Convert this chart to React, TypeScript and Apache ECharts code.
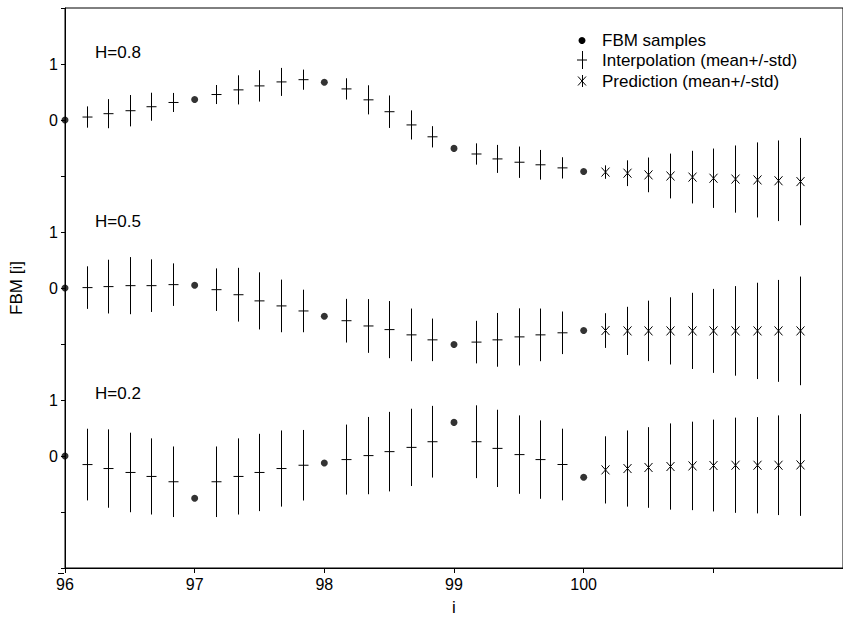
import React, { useEffect, useRef } from "react";
import * as echarts from "echarts";

// x positions (i)
const sampleX = [96, 97, 98, 99, 100];
const interpX = [
  96.167, 96.333, 96.5, 96.667, 96.833,
  97.167, 97.333, 97.5, 97.667, 97.833,
  98.167, 98.333, 98.5, 98.667, 98.833,
  99.167, 99.333, 99.5, 99.667, 99.833,
];
const predX = [100.167, 100.333, 100.5, 100.667, 100.833, 101, 101.167, 101.333, 101.5, 101.667];

// panel names
const panelNames = ["H=0.8", "H=0.5", "H=0.2"];

// H=0.8
const h08Samples = [0, 0.366, 0.673, -0.507, -0.92];
const h08InterpMean = [0.053, 0.113, 0.166, 0.237, 0.313, 0.455, 0.538, 0.609, 0.68, 0.72, 0.555, 0.36, 0.148, -0.088, -0.3, -0.607, -0.695, -0.754, -0.8, -0.855];
const h08InterpStd = [0.19, 0.26, 0.28, 0.25, 0.17, 0.17, 0.26, 0.28, 0.25, 0.18, 0.19, 0.26, 0.29, 0.26, 0.19, 0.19, 0.25, 0.28, 0.265, 0.19];
const h08PredMean = [-0.93, -0.95, -0.98, -1.0, -1.02, -1.04, -1.055, -1.07, -1.085, -1.1];
const h08PredStd = [0.12, 0.23, 0.31, 0.4, 0.47, 0.53, 0.6, 0.67, 0.72, 0.78];

// H=0.5
const h05Samples = [0, 0.048, -0.506, -1.01, -0.76];
const h05InterpMean = [0.007, 0.025, 0.042, 0.042, 0.06, -0.03, -0.12, -0.23, -0.32, -0.41, -0.584, -0.678, -0.743, -0.837, -0.926, -0.966, -0.926, -0.873, -0.837, -0.8];
const h05InterpStd = [0.38, 0.48, 0.51, 0.47, 0.38, 0.38, 0.48, 0.51, 0.47, 0.38, 0.39, 0.48, 0.51, 0.47, 0.38, 0.38, 0.48, 0.51, 0.47, 0.38];
const h05PredMean = [-0.76, -0.766, -0.766, -0.766, -0.766, -0.766, -0.766, -0.766, -0.766, -0.766];
const h05PredStd = [0.31, 0.43, 0.54, 0.6, 0.68, 0.75, 0.8, 0.86, 0.91, 0.97];

// H=0.2
const h02Samples = [0, -0.755, -0.124, 0.6, -0.38];
const h02InterpMean = [-0.153, -0.224, -0.294, -0.365, -0.46, -0.46, -0.365, -0.294, -0.224, -0.165, -0.064, 0.007, 0.078, 0.154, 0.255, 0.255, 0.136, 0.025, -0.064, -0.152];
const h02InterpStd = [0.64, 0.7, 0.71, 0.68, 0.63, 0.63, 0.68, 0.69, 0.68, 0.63, 0.625, 0.69, 0.71, 0.69, 0.64, 0.65, 0.69, 0.7, 0.7, 0.64];
const h02PredMean = [-0.248, -0.224, -0.205, -0.188, -0.177, -0.17, -0.165, -0.165, -0.165, -0.159];
const h02PredStd = [0.6, 0.68, 0.72, 0.77, 0.79, 0.82, 0.85, 0.86, 0.89, 0.91];

// tick labels
const xTickLabels = ["96", "97", "98", "99", "100"];
const yTickLabels: Record<string, string> = { "0": "0", "1": "1", "3": "0", "4": "1", "6": "0", "7": "1" };

const legendNames = ["FBM samples", "Interpolation (mean+/-std)", "Prediction (mean+/-std)"];

const FONT = "'Liberation Sans', Arial, Helvetica, sans-serif";

export default function App() {
  const ref = useRef<HTMLDivElement>(null);

  useEffect(() => {
    if (!ref.current) return;
    const chart = echarts.init(ref.current, null, { renderer: "svg" });

    const panels = [
      { name: panelNames[0], offset: 6, s: h08Samples, im: h08InterpMean, is: h08InterpStd, pm: h08PredMean, ps: h08PredStd },
      { name: panelNames[1], offset: 3, s: h05Samples, im: h05InterpMean, is: h05InterpStd, pm: h05PredMean, ps: h05PredStd },
      { name: panelNames[2], offset: 0, s: h02Samples, im: h02InterpMean, is: h02InterpStd, pm: h02PredMean, ps: h02PredStd },
    ];

    const sampleData: number[][] = [];
    const interpData: number[][] = [];
    const predData: number[][] = [];
    panels.forEach((p) => {
      sampleX.forEach((x, i) => sampleData.push([x, p.s[i] + p.offset]));
      interpX.forEach((x, i) => interpData.push([x, p.im[i] + p.offset, p.is[i]]));
      predX.forEach((x, i) => predData.push([x, p.pm[i] + p.offset, p.ps[i]]));
    });

    const stroke = { stroke: "#000", lineWidth: 1 };
    const makeRender = (kind: "interp" | "pred") => (params: any, api: any) => {
      const x = api.value(0);
      const m = api.value(1);
      const s = api.value(2);
      const top = api.coord([x, m + s]);
      const bot = api.coord([x, m - s]);
      const c = api.coord([x, m]);
      const cx = Math.round(c[0]) + 0.5;
      const children: any[] = [
        { type: "line", shape: { x1: cx, y1: top[1], x2: cx, y2: bot[1] }, style: stroke },
      ];
      if (kind === "interp") {
        children.push({ type: "line", shape: { x1: cx - 5, y1: c[1], x2: cx + 5, y2: c[1] }, style: stroke });
      } else {
        children.push({ type: "line", shape: { x1: cx - 4, y1: c[1] - 4.5, x2: cx + 4, y2: c[1] + 4.5 }, style: stroke });
        children.push({ type: "line", shape: { x1: cx - 4, y1: c[1] + 4.5, x2: cx + 4, y2: c[1] - 4.5 }, style: stroke });
      }
      return { type: "group", children };
    };

    const legendX = 582;
    const legendRows = [40.5, 60, 81];
    const graphic: any[] = [
      // panel labels
      ...panels.map((p, k) => ({
        type: "text",
        left: 95,
        top: [44, 213, 385][k],
        style: { text: p.name, font: `17px ${FONT}`, fill: "#000" },
      })),
      // x-axis line slightly extending left of the y axis
      { type: "line", shape: { x1: 58, y1: 573.5, x2: 64, y2: 573.5 }, style: stroke },
      // legend
      { type: "circle", shape: { cx: legendX, cy: legendRows[0], r: 3.5 }, style: { fill: "#000" } },
      { type: "line", shape: { x1: legendX + 0.5, y1: legendRows[1] - 9, x2: legendX + 0.5, y2: legendRows[1] + 9 }, style: stroke },
      { type: "line", shape: { x1: legendX - 5, y1: legendRows[1], x2: legendX + 5, y2: legendRows[1] }, style: stroke },
      { type: "line", shape: { x1: legendX + 0.5, y1: legendRows[2] - 6, x2: legendX + 0.5, y2: legendRows[2] + 6 }, style: stroke },
      { type: "line", shape: { x1: legendX - 4, y1: legendRows[2] - 4.5, x2: legendX + 4, y2: legendRows[2] + 4.5 }, style: stroke },
      { type: "line", shape: { x1: legendX - 4, y1: legendRows[2] + 4.5, x2: legendX + 4, y2: legendRows[2] - 4.5 }, style: stroke },
      ...legendNames.map((n, k) => ({
        type: "text",
        x: 602,
        y: legendRows[k],
        style: { text: n, font: `17px ${FONT}`, fill: "#000", textVerticalAlign: "middle", verticalAlign: "middle" },
      })),
    ];

    chart.setOption({
      animation: false,
      backgroundColor: "#fff",
      textStyle: { fontFamily: FONT, color: "#000" },
      grid: { left: 64, top: 8, width: 782, height: 565, show: true, borderColor: "#000", borderWidth: 1, containLabel: false },
      xAxis: {
        type: "value",
        min: 96,
        max: 102,
        interval: 1,
        name: "i",
        nameLocation: "middle",
        nameGap: 31,
        nameTextStyle: { fontSize: 17, color: "#000", fontFamily: FONT },
        axisLine: { onZero: false, lineStyle: { color: "#000", width: 1 } },
        axisTick: { show: true, inside: false, length: 5, lineStyle: { color: "#000" } },
        axisLabel: {
          color: "#000",
          fontSize: 16,
          fontFamily: FONT,
          margin: 8,
          showMaxLabel: false,
          formatter: (v: number) => (xTickLabels.indexOf(String(v)) >= 0 ? String(v) : ""),
        },
        splitLine: { show: false },
      },
      yAxis: {
        type: "value",
        min: -2,
        max: 8,
        interval: 1,
        name: "FBM [i]",
        nameLocation: "middle",
        nameGap: 40,
        nameTextStyle: { fontSize: 17, color: "#000", fontFamily: FONT },
        axisLine: { onZero: false, lineStyle: { color: "#000", width: 1 } },
        axisTick: { show: true, inside: false, length: 4, lineStyle: { color: "#000" } },
        axisLabel: {
          color: "#000",
          fontSize: 16,
          fontFamily: FONT,
          margin: 7,
          formatter: (v: number) => yTickLabels[String(v)] ?? "",
        },
        splitLine: { show: false },
      },
      series: [
        {
          name: legendNames[0],
          type: "scatter",
          data: sampleData,
          symbol: "circle",
          symbolSize: 7,
          itemStyle: { color: "#000" },
        },
        {
          name: legendNames[1],
          type: "custom",
          data: interpData,
          encode: { x: 0, y: 1 },
          renderItem: makeRender("interp"),
        },
        {
          name: legendNames[2],
          type: "custom",
          data: predData,
          encode: { x: 0, y: 1 },
          renderItem: makeRender("pred"),
        },
      ],
      graphic,
    });

    return () => chart.dispose();
  }, []);

  return (
    <div
      ref={ref}
      style={{ position: "fixed", left: 0, top: 0, width: 843, height: 621, background: "#fff" }}
    />
  );
}
